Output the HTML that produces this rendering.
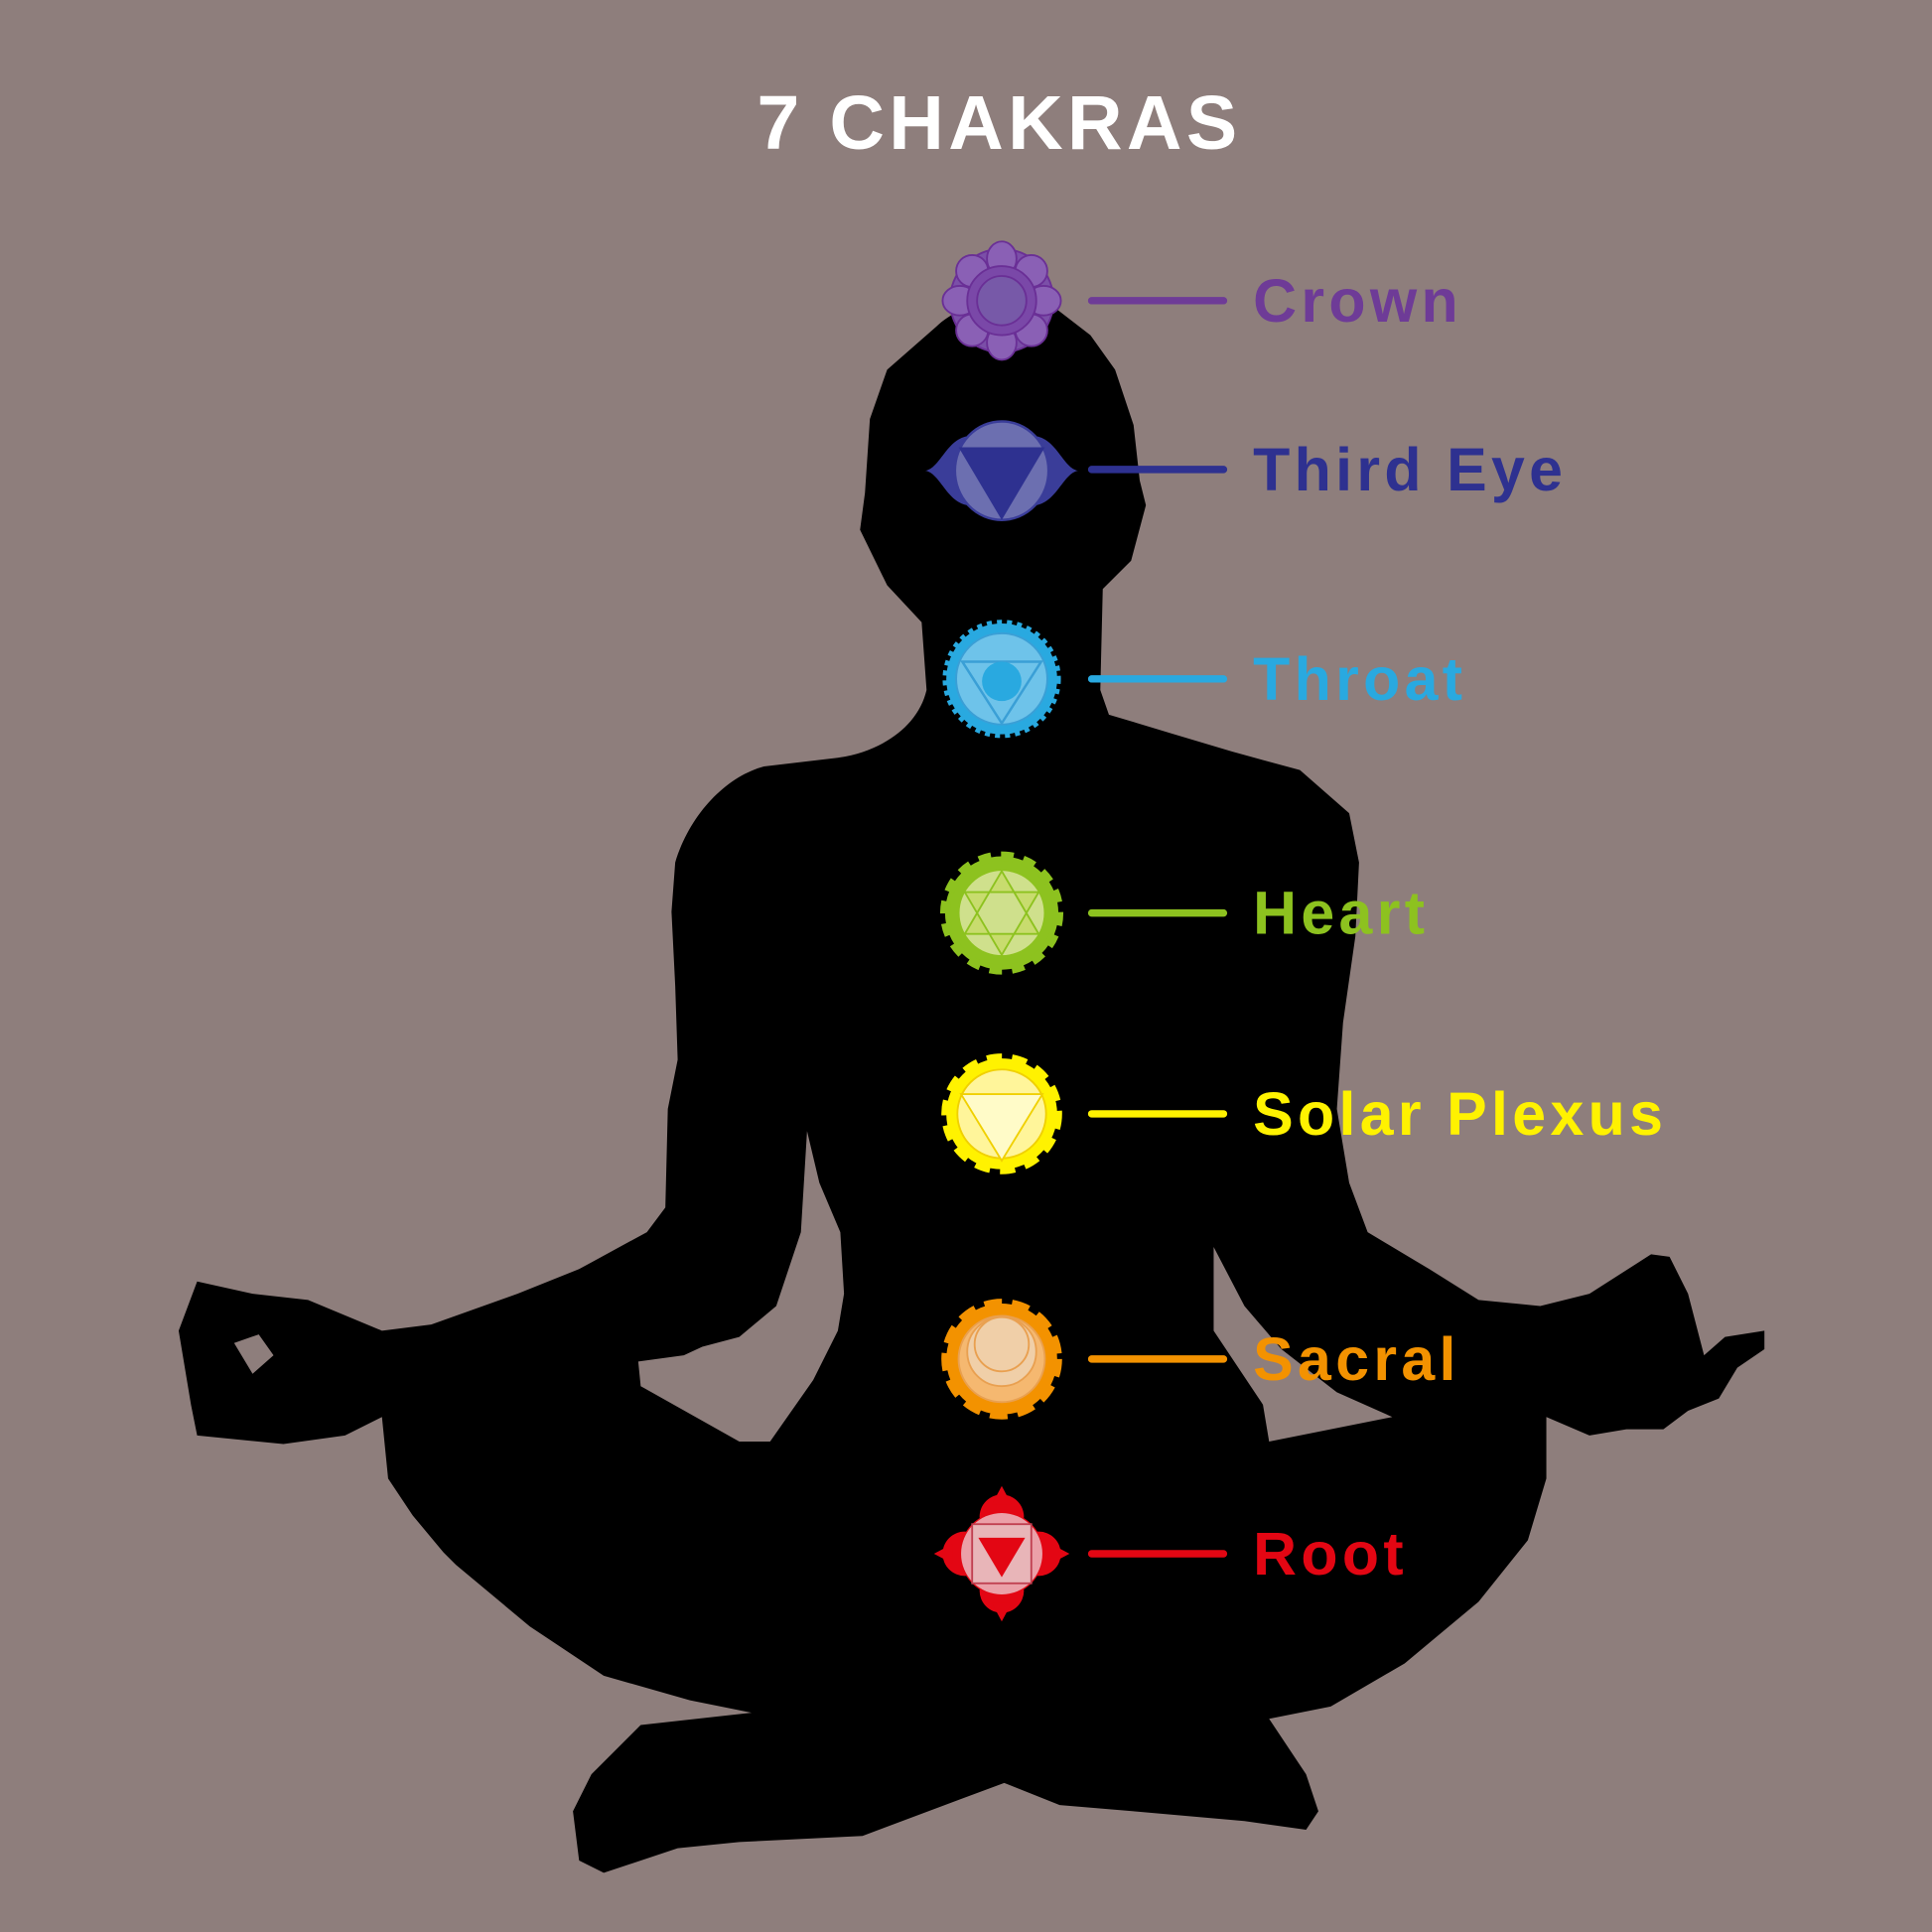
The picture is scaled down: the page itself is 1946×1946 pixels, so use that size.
<!DOCTYPE html>
<html><head><meta charset="utf-8"><style>
html,body{margin:0;padding:0;background:#8e7e7c;}
svg{display:block}
text{font-family:"Liberation Sans",sans-serif;font-weight:bold}
</style></head><body>
<svg width="1946" height="1946" viewBox="0 0 1568 1568" xmlns="http://www.w3.org/2000/svg">
<rect width="1568" height="1568" fill="#8e7e7c"/>
<text x="811" y="121" font-size="62" fill="#fff" text-anchor="middle" letter-spacing="3.5">7 CHAKRAS</text>
<path fill="#000" fill-rule="evenodd" d="M813,240 C790,245 770,255 760,265 L720,300 L706,340 L702,400 L698,430 L720,475 L748,505 L752,560 C745,590 715,610 680,615 L620,622 C590,630 560,660 548,700 L545,740 L548,800 L550,860 L542,900 L540,980 L525,1000 L470,1030 L420,1050 L350,1075 L310,1080 L250,1055 L205,1050 L160,1040 L145,1080 L155,1140 L160,1165 L230,1172 L280,1165 L310,1150 L315,1200 L335,1230 L360,1260 L370,1270 L430,1320 L490,1360 L560,1380 L610,1390 L520,1400 L480,1440 L465,1470 L470,1510 L490,1520 L550,1500 L600,1495 L700,1490 L780,1460 L815,1447 L860,1465 L920,1470 L1010,1478 L1060,1485 L1070,1470 L1060,1440 L1030,1395 L1080,1385 L1140,1350 L1200,1300 L1240,1250 L1255,1200 L1255,1150 L1290,1165 L1320,1160 L1350,1160 L1370,1145 L1395,1135 L1410,1110 L1432,1095 L1432,1080 L1400,1085 L1383,1100 L1370,1050 L1355,1020 L1340,1018 L1290,1050 L1250,1060 L1200,1055 L1160,1030 L1110,1000 L1095,960 L1085,900 L1090,830 L1100,760 L1103,700 L1095,660 L1055,625 L1000,610 L950,595 L900,580 L893,560 L895,478 L918,455 L930,410 L925,390 L920,345 L905,300 L885,272 L850,245 Z
M518,1105 L555,1100 L570,1093 L600,1085 L630,1060 L650,1000 L655,918 L665,960 L682,1000 L685,1050 L680,1080 L660,1120 L625,1170 L600,1170 L520,1125 Z
M985,1012 L1010,1060 L1040,1095 L1085,1130 L1130,1150 L1080,1160 L1030,1170 L1025,1140 L985,1080 Z
M190,1090 L210,1083 L222,1100 L205,1115 Z"/>
<g stroke-width="6" stroke-linecap="round">
<line x1="886" y1="244" x2="993" y2="244" stroke="#6e3b97"/>
<line x1="886" y1="381" x2="993" y2="381" stroke="#2e3190"/>
<line x1="886" y1="551" x2="993" y2="551" stroke="#29a9e0"/>
<line x1="886" y1="741" x2="993" y2="741" stroke="#8dc21f"/>
<line x1="886" y1="904" x2="993" y2="904" stroke="#fff200"/>
<line x1="886" y1="1103" x2="993" y2="1103" stroke="#f39200"/>
<line x1="886" y1="1261" x2="993" y2="1261" stroke="#e30613"/>
</g>
<g font-size="49" letter-spacing="3.5">
<text x="1017" y="261" fill="#6e3b97">Crown</text>
<text x="1017" y="398" fill="#2e3190">Third Eye</text>
<text x="1017" y="568" fill="#29a9e0">Throat</text>
<text x="1017" y="758" fill="#8dc21f">Heart</text>
<text x="1017" y="921" fill="#fff200">Solar Plexus</text>
<text x="1017" y="1120" fill="#f39200">Sacral</text>
<text x="1017" y="1278" fill="#e30613">Root</text>
</g>
<g transform="translate(813,244)">
<circle r="42" fill="#7b4fa8" stroke="#6a2f96" stroke-width="1.5"/>
<g fill="#8a60b5" stroke="#6a2f96" stroke-width="1.5">
<ellipse cx="0" cy="-34" rx="12" ry="14"/><ellipse cx="0" cy="34" rx="12" ry="14"/>
<ellipse cx="-34" cy="0" rx="14" ry="12"/><ellipse cx="34" cy="0" rx="14" ry="12"/>
<ellipse cx="-24" cy="-24" rx="13" ry="13"/><ellipse cx="24" cy="-24" rx="13" ry="13"/>
<ellipse cx="-24" cy="24" rx="13" ry="13"/><ellipse cx="24" cy="24" rx="13" ry="13"/>
</g>
<circle r="28" fill="#7a48a8" stroke="#6a2f96" stroke-width="1.5"/>
<circle r="20" fill="#7759a8" stroke="#6a2f96" stroke-width="1.5"/>
</g>
<g transform="translate(813,382)">
<path d="M-62,0 C-50,-2 -45,-25 -28,-28 L28,-28 C45,-25 50,-2 62,0 C50,2 45,25 28,28 L-28,28 C-45,25 -50,2 -62,0Z" fill="#3a3d99"/>
<ellipse rx="38" ry="40" fill="#6c6fb0" stroke="#3a3d99" stroke-width="2"/>
<path d="M-35,-19 L35,-19 L0,40 Z" fill="#2e3190"/>
</g>
<g transform="translate(813,551)">
<circle r="45" fill="#29a9e0" stroke="#29a9e0" stroke-width="6" stroke-dasharray="4 4"/>
<circle r="37" fill="#6ec3ea" stroke="#3a9fd6" stroke-width="1.5"/>
<path d="M-32,-14 L32,-14 L0,36 Z" fill="none" stroke="#3a9fd6" stroke-width="2"/>
<circle r="16" cy="2" fill="#29a9e0"/>
</g>
<g transform="translate(813,741)">
<circle r="46" fill="#8dc21f" stroke="#8dc21f" stroke-width="8" stroke-dasharray="10 8"/>
<circle r="35" fill="#cfe08c" stroke="#8dc21f" stroke-width="1.5"/>
<path d="M0,-34 L30,17 L-30,17 Z M0,34 L30,-17 L-30,-17 Z" fill="#c3d85a" fill-opacity="0.6" stroke="#8dc21f" stroke-width="1.5"/>
</g>
<g transform="translate(813,904)">
<circle r="45" fill="#fff200" stroke="#fff200" stroke-width="8" stroke-dasharray="12 8"/>
<circle r="36" fill="#fff59a" stroke="#f0d000" stroke-width="1.5"/>
<path d="M-33,-16 L33,-16 L0,38 Z" fill="#fffbc8" stroke="#f0d000" stroke-width="1.5"/>
</g>
<g transform="translate(813,1103)">
<circle r="45" fill="#f39200" stroke="#f39200" stroke-width="8" stroke-dasharray="14 8"/>
<circle r="35" fill="#f5b870" stroke="#e9a050" stroke-width="1.5"/>
<circle r="28" cy="-6" fill="#f0cfa8" stroke="#e9a050" stroke-width="1.5"/>
<circle r="22" cy="-12" fill="#f0cfa8" stroke="#e9a050" stroke-width="1.5"/>
</g>
<g transform="translate(813,1261)">
<circle r="34" fill="#e30613"/>
<circle cx="-30" r="18" fill="#e30613"/><circle cx="30" r="18" fill="#e30613"/>
<circle cy="-30" r="18" fill="#e30613"/><circle cy="30" r="18" fill="#e30613"/>
<path d="M-55,0 L-40,-8 L-40,8Z M55,0 L40,-8 L40,8Z M0,-55 L-8,-40 L8,-40Z M0,55 L-8,40 L8,40Z" fill="#e30613"/>
<circle r="33" fill="#eba0a8"/>
<rect x="-24" y="-24" width="48" height="48" fill="#e8b5b8" stroke="#c04050" stroke-width="1.5"/>
<path d="M-19,-13 L19,-13 L0,19 Z" fill="#e30613"/>
</g>
</svg>
</body></html>
